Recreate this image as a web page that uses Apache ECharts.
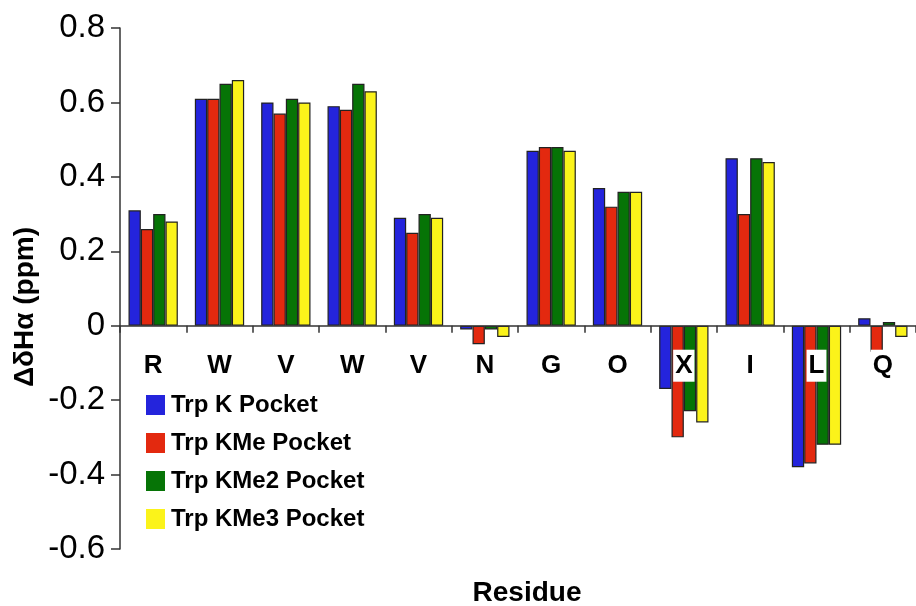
<!DOCTYPE html>
<html>
<head>
<meta charset="utf-8">
<script src="https://cdn.jsdelivr.net/npm/echarts@6/dist/echarts.min.js"></script>
<style>
  html, body { margin: 0; padding: 0; background: #fff; }
  #chart { width: 916px; height: 606px; }
</style>
</head>
<body>
<div id="chart"></div>
<script>
// Residues along the peptide
const residues = ['R', 'W', 'V', 'W', 'V', 'N', 'G', 'O', 'X', 'I', 'L', 'Q'];

// Hα chemical shift differences (ppm) for each pocket variant
const trpK    = [0.31, 0.61, 0.60, 0.59, 0.29, -0.01, 0.47, 0.37, -0.17, 0.45, -0.38, 0.02];
const trpKMe  = [0.26, 0.61, 0.57, 0.58, 0.25, -0.05, 0.48, 0.32, -0.30, 0.30, -0.37, -0.07];
const trpKMe2 = [0.30, 0.65, 0.61, 0.65, 0.30, -0.01, 0.48, 0.36, -0.23, 0.45, -0.32, 0.01];
const trpKMe3 = [0.28, 0.66, 0.60, 0.63, 0.29, -0.03, 0.47, 0.36, -0.26, 0.44, -0.32, -0.03];

const seriesNames = ['Trp K Pocket', 'Trp KMe Pocket', 'Trp KMe2 Pocket', 'Trp KMe3 Pocket'];
const seriesValues = [trpK, trpKMe, trpKMe2, trpKMe3];
const seriesColors = ['#2424dc', '#e3290f', '#067406', '#fbf31a'];

// Value axis ticks
const yMin = -0.6, yMax = 0.8, yStep = 0.2;

// Plot box
const gridLeft = 120, gridTop = 28, gridWidth = 800, gridHeight = 521;
// Distance from the bottom of the plot box up to the zero line
const zeroLift = gridHeight * (0 - yMin) / (yMax - yMin);

const chart = echarts.init(document.getElementById('chart'));

const series = seriesNames.map((name, i) => ({
  name: name,
  type: 'bar',
  data: seriesValues[i],
  barWidth: 12.33,
  barGap: '0%',
  itemStyle: { color: seriesColors[i], borderColor: '#222', borderWidth: 1.2 },
  z: 2
}));

const fontFamily = 'Liberation Sans, Arial, sans-serif';

chart.setOption({
  animation: false,
  backgroundColor: '#fff',
  grid: { left: gridLeft, top: gridTop, width: gridWidth, height: gridHeight, containLabel: false },
  title: {
    text: 'Residue',
    left: 522,
    top: 574,
    textAlign: 'center',
    textStyle: { fontFamily: fontFamily, fontWeight: 'bold', fontSize: 28, color: '#000' }
  },
  legend: {
    orient: 'vertical',
    left: 141,
    top: 388,
    itemWidth: 19,
    itemHeight: 20,
    itemGap: 14,
    icon: 'rect',
    itemStyle: { borderWidth: 0 },
    data: seriesNames,
    textStyle: { fontFamily: fontFamily, fontWeight: 'bold', fontSize: 24, color: '#000', padding: [0, 0, 0, 1] }
  },
  graphic: [{
    type: 'text',
    x: 25,
    y: 307,
    rotation: Math.PI / 2,
    style: {
      text: 'ΔδHα (ppm)',
      fontFamily: fontFamily,
      fontWeight: 'bold',
      fontSize: 28,
      fill: '#000',
      textAlign: 'center',
      textVerticalAlign: 'middle'
    }
  }],
  xAxis: {
    type: 'category',
    data: residues,
    position: 'bottom',
    offset: -zeroLift,
    axisLine: { onZero: false, lineStyle: { color: '#333', width: 1.5 } },
    axisTick: { show: true, length: 7, lineStyle: { color: '#333', width: 1.5 } },
    axisLabel: {
      margin: 24,
      fontFamily: fontFamily,
      fontWeight: 'bold',
      fontSize: 26,
      lineHeight: 32,
      color: '#000',
      backgroundColor: '#fff',
      padding: [0, 2]
    },
    z: 5
  },
  yAxis: {
    type: 'value',
    min: yMin,
    max: yMax,
    interval: yStep,
    splitLine: { show: false },
    axisLine: { show: true, lineStyle: { color: '#333', width: 1.5 } },
    axisTick: { show: true, length: 9, lineStyle: { color: '#333', width: 1.5 } },
    axisLabel: {
      margin: 15,
      fontFamily: fontFamily,
      fontSize: 33,
      color: '#000',
      formatter: v => (Math.abs(v) < 1e-9 ? '0' : v.toFixed(1))
    }
  },
  series: series
});
</script>
</body>
</html>
